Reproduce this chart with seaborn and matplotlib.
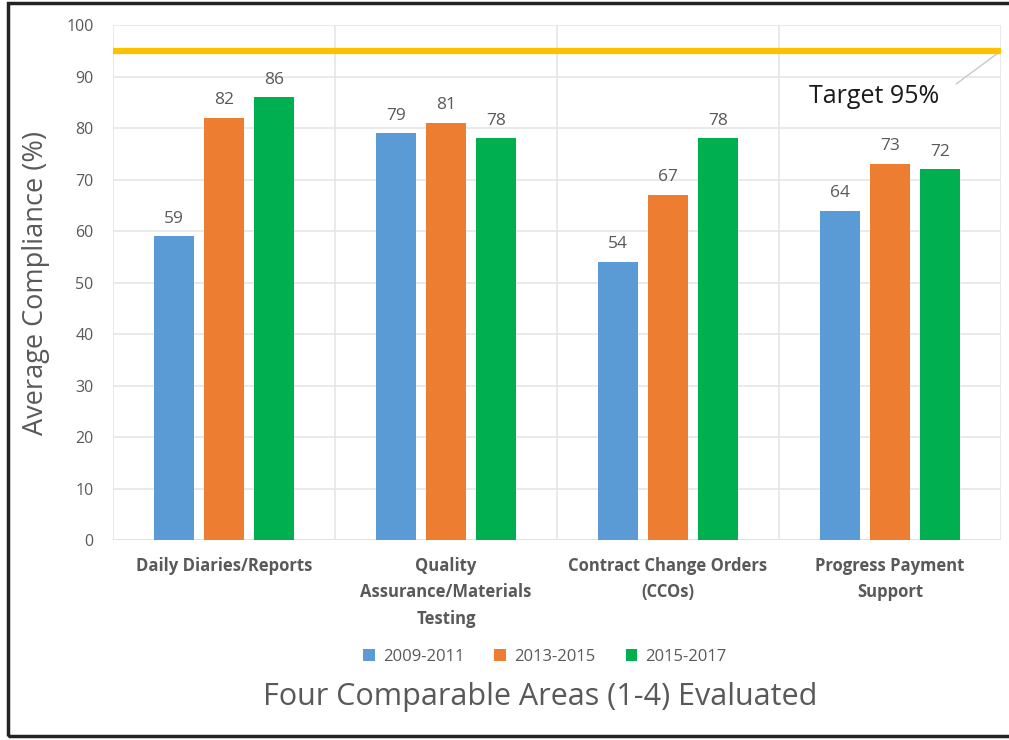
import matplotlib
matplotlib.use("Agg")
import matplotlib.pyplot as plt
import seaborn as sns
import pandas as pd
from matplotlib.patches import Rectangle, Patch

# Chart data
areas = [
    "Daily Diaries/Reports",
    "Quality\nAssurance/Materials\nTesting",
    "Contract Change Orders\n(CCOs)",
    "Progress Payment\nSupport",
]
periods = ["2009-2011", "2013-2015", "2015-2017"]
vals_2009_2011 = [59, 79, 54, 64]
vals_2013_2015 = [82, 81, 67, 73]
vals_2015_2017 = [86, 78, 78, 72]
target = 95
y_ticks = [0, 10, 20, 30, 40, 50, 60, 70, 80, 90, 100]

colors = ["#5B9BD5", "#ED7D31", "#00B050"]
grey = "#595959"

rows = []
for period, vals in zip(periods, [vals_2009_2011, vals_2013_2015, vals_2015_2017]):
    for area, v in zip(areas, vals):
        rows.append({"Area": area, "Period": period, "Value": v})
df = pd.DataFrame(rows)

sns.set_theme(style="white")
plt.rcParams["font.family"] = ["Open Sans", "DejaVu Sans"]

fig = plt.figure(figsize=(10.09, 7.40), dpi=100)
ax = fig.add_axes([0.112, 0.270, 0.880, 0.696])

sns.barplot(data=df, x="Area", y="Value", hue="Period", order=areas,
            hue_order=periods, palette=colors, width=0.676, gap=0.2,
            saturation=1, linewidth=0, legend=False, ax=ax, zorder=3)

ax.set_ylim(0, 100)
ax.set_xlim(-0.5, len(areas) - 0.5)
ax.set_yticks(y_ticks)
ax.yaxis.grid(True, color="#E6E6E6", linewidth=1.2, zorder=0)
for b in range(len(areas) + 1):
    ax.axvline(b - 0.5, color="#E6E6E6", linewidth=1.2, zorder=0)
for s in ax.spines.values():
    s.set_visible(False)
ax.axhline(0, color="#E0E0E0", linewidth=1.2, zorder=1)

# value labels above bars
for cont in ax.containers:
    ax.bar_label(cont, labels=[f"{b.get_height():.0f}" for b in cont],
                 padding=7, fontsize=12.5, color=grey)

# target line and annotation
ax.axhline(target, color="#FFC000", linewidth=4.5, zorder=4)
ax.annotate("Target 95%", xy=(3.5, target), xytext=(2.93, 86.2),
            fontsize=18, color="#1a1a1a", ha="center", va="center",
            arrowprops=dict(arrowstyle="-", color="#C8C8C8", lw=1,
                            relpos=(1.0, 0.5), shrinkA=12, shrinkB=0))

ax.tick_params(axis="y", length=0, labelsize=11.5, labelcolor=grey, pad=14)
ax.tick_params(axis="x", length=0, labelsize=12, labelcolor=grey, pad=12)
for lbl in ax.get_xticklabels():
    lbl.set_fontweight("bold")
    lbl.set_linespacing(1.6)

ax.set_xlabel("")
ax.set_ylabel("Average Compliance (%)", fontsize=19.5, color=grey, labelpad=12)

fig.text(0.535, 0.058, "Four Comparable Areas (1-4) Evaluated",
         ha="center", va="center", fontsize=22, color=grey)

handles = [Patch(facecolor=c, edgecolor="none") for c in colors]
fig.legend(handles, periods, loc="center", bbox_to_anchor=(0.54, 0.112),
           ncol=3, frameon=False, fontsize=12, labelcolor=grey,
           handlelength=0.7, handleheight=0.7, handletextpad=0.5,
           columnspacing=1.8)

# outer frame
fig.patches.append(Rectangle((0.008, 0.006), 0.995, 0.99, transform=fig.transFigure,
                             fill=False, edgecolor="#222222", linewidth=2.5))

fig.savefig("out.png", dpi=100)
